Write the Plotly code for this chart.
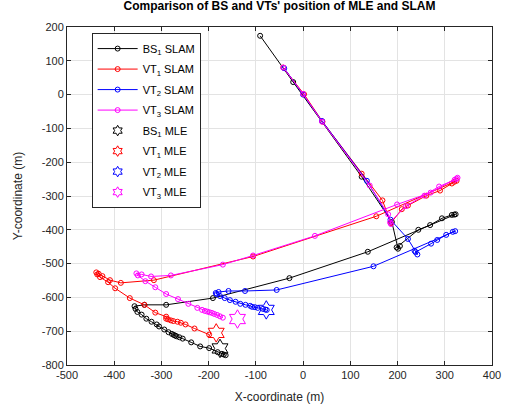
import plotly.graph_objects as go

# ---- data ----
bs1_x = [-91, -21, 124, 188, 201, 205, 198, 244, 269, 294, 315, 320, 323,
         137, -29, -191, -290, -336, -357,
         -355, -351, -342, -332, -321, -310, -305, -294, -285, -278, -274, -271,
         -268, -262, -255, -237, -218, -199, -181, -172, -168, -164]
bs1_y = [174, 37, -243, -377, -456, -448, -452, -400, -386, -366, -356, -355, -354,
         -465, -543, -602, -622, -622, -626,
         -634, -643, -651, -663, -672, -680, -686, -695, -703, -708, -711, -713,
         -715, -718, -722, -733, -745, -750, -762, -767, -769, -771]

vt1_x = [-42, 2, 41, 124, 168, 186, 209, 222, 261, 290, 315, 320, 325,
         155, -106, -316, -386, -409, -425, -433, -438, -436, -430,
         -413, -398, -367, -336, -313, -290, -290, -286, -280, -275, -266, -259,
         -249, -230, -199]
vt1_y = [80, 1, -80, -234, -313, -380, -339, -328, -299, -284, -263, -258, -255,
         -360, -479, -549, -557, -549, -537, -530, -526, -532, -540,
         -555, -573, -602, -622, -645, -657, -663, -665, -668, -670, -672, -675,
         -680, -692, -710]

vt2_x = [-40, 0, 40, 135, 185, 222, 236, 242, 238, 271, 284, 303, 317, 322,
         149, -56, -123, -158, -179, -185, -183,
         -176, -166, -155, -143, -133, -122, -112, -108, -102, -96, -85, -80, -77]
vt2_y = [78, 0, -78, -255, -370, -427, -462, -473, -466, -441, -430, -415, -406, -404,
         -508, -578, -581, -581, -584, -587, -590,
         -596, -602, -608, -613, -619, -622, -625, -628, -629, -631, -634, -636, -637]

vt3_x = [-42, 0, 40, 141, 180, 186, 184, 218, 257, 288, 321, 325, 327,
         270, 199, 25, -106, -170, -280, -322, -342, -353, -350,
         -334, -313, -290, -265, -243, -224, -214, -208, -203, -198, -193, -188,
         -182, -176, -170]
vt3_y = [80, 2, -80, -269, -354, -383, -378, -330, -299, -272, -252, -249, -246,
         -290, -325, -418, -476, -503, -535, -538, -532, -529, -535,
         -552, -570, -590, -605, -619, -631, -637, -640, -642, -644, -646, -649,
         -652, -656, -660]

mle_x = {"BS": -176, "VT1": -184, "VT2": -78, "VT3": -139}
mle_y = {"BS": -751, "VT1": -705, "VT2": -637, "VT3": -664}

x_ticks = list(range(-500, 401, 100))
y_ticks = list(range(-800, 201, 100))

FONT = "Liberation Sans, Arial, sans-serif"

fig = go.Figure()

slam = [
    ("BS<sub>1</sub> SLAM", bs1_x, bs1_y, "black"),
    ("VT<sub>1</sub> SLAM", vt1_x, vt1_y, "red"),
    ("VT<sub>2</sub> SLAM", vt2_x, vt2_y, "blue"),
    ("VT<sub>3</sub> SLAM", vt3_x, vt3_y, "magenta"),
]
for i, (name, xs, ys, c) in enumerate(slam):
    fig.add_trace(go.Scatter(
        x=xs, y=ys, mode="lines+markers", name=name, legendgroup=f"g{i}",
        line=dict(color=c, width=1),
        marker=dict(symbol="circle-open", size=5, color=c, line=dict(width=1, color=c)),
    ))

mle = [
    ("BS<sub>1</sub> MLE", "BS", "black"),
    ("VT<sub>1</sub> MLE", "VT1", "red"),
    ("VT<sub>2</sub> MLE", "VT2", "blue"),
    ("VT<sub>3</sub> MLE", "VT3", "magenta"),
]
for i, (name, k, c) in enumerate(mle):
    fig.add_trace(go.Scatter(
        x=[mle_x[k]], y=[mle_y[k]], mode="markers", name=name, showlegend=False,
        legendgroup=f"m{i}",
        marker=dict(symbol="hexagram-open", size=14, color=c, line=dict(width=1, color=c)),
    ))
    # legend-only entry with a smaller star, like the reference legend
    fig.add_trace(go.Scatter(
        x=[None], y=[None], mode="markers", name=name, legendgroup=f"m{i}",
        marker=dict(symbol="hexagram-open", size=8, color=c, line=dict(width=1, color=c)),
    ))

axis_common = dict(
    showgrid=True, gridcolor="#e3e3e3", gridwidth=1,
    showline=True, linecolor="#262626", linewidth=1, mirror="ticks",
    ticks="inside", ticklen=4, tickcolor="#262626",
    zeroline=False,
    tickfont=dict(family=FONT, size=11, color="#262626"),
)

fig.update_xaxes(range=[-500, 400], tickvals=x_ticks, ticktext=[str(v) for v in x_ticks],
                 title=dict(text="X-coordinate (m)", standoff=12,
                            font=dict(family=FONT, size=12, color="#262626")),
                 **axis_common)
fig.update_yaxes(range=[-800, 200], tickvals=y_ticks, ticktext=[str(v) for v in y_ticks],
                 title=dict(text="Y-coordinate (m)", standoff=16,
                            font=dict(family=FONT, size=12, color="#262626")),
                 **axis_common)

fig.update_layout(
    width=513, height=414,
    margin=dict(l=67, r=12, t=27, b=44),
    paper_bgcolor="white", plot_bgcolor="white",
    title=dict(text="<b>Comparison of BS and VTs' position of MLE and SLAM</b>",
               x=0.5, xanchor="center", y=0.995, yanchor="top",
               xref="paper",
               font=dict(family=FONT, size=12, color="black")),
    legend=dict(x=0.058, y=0.982, xanchor="left", yanchor="top",
                bgcolor="white", bordercolor="#262626", borderwidth=1,
                font=dict(family=FONT, size=11, color="black"),
                tracegroupgap=1.5, itemwidth=40),
    showlegend=True,
)

fig.write_html(
    "out.html",
    config={"displayModeBar": False},
    post_script="document.body.style.margin='0';document.body.style.overflow='hidden';",
)
